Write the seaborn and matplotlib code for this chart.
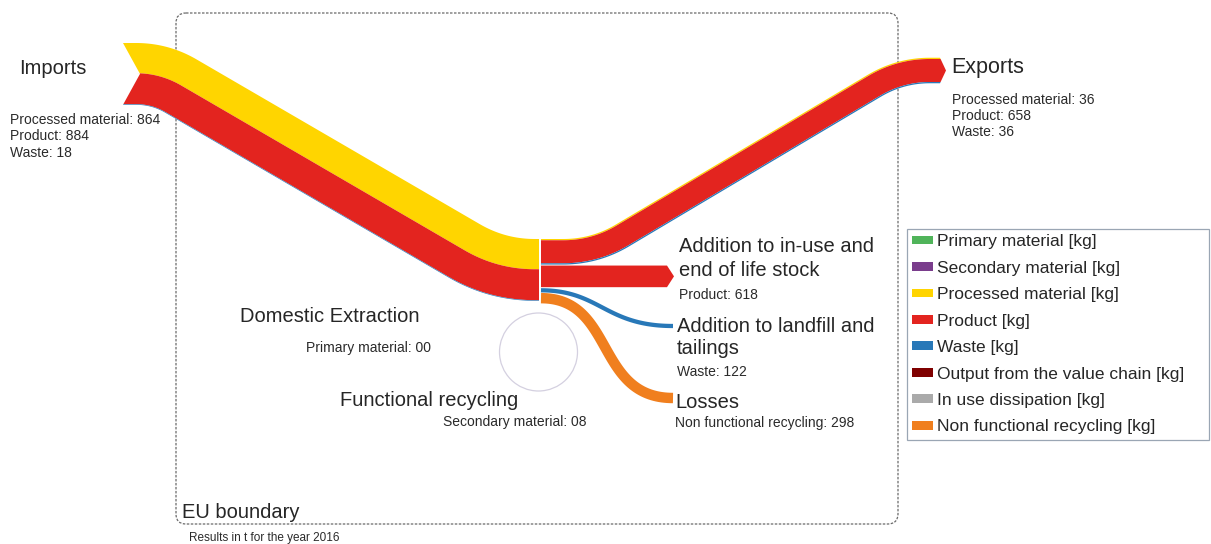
import numpy as np
import matplotlib
matplotlib.use("Agg")
import matplotlib.pyplot as plt
from matplotlib.patches import Patch, Circle, FancyBboxPatch
import seaborn as sns

# flows of the EU material balance, results in t for the year 2016
imports_labels = ["Processed material", "Product", "Waste"]
imports_values = [864, 884, 18]
exports_labels = ["Processed material", "Product", "Waste"]
exports_values = [36, 658, 36]
stock_value = 618        # product -> addition to in-use and end of life stock
landfill_value = 122     # waste -> addition to landfill and tailings
losses_value = 298       # non functional recycling
domestic_value = "00"    # primary material
recycling_value = "08"   # secondary material

legend_labels = ["Primary material [kg]", "Secondary material [kg]",
                 "Processed material [kg]", "Product [kg]", "Waste [kg]",
                 "Output from the value chain [kg]", "In use dissipation [kg]",
                 "Non functional recycling [kg]"]
legend_colors = ["#50b45a", "#7a3d8c", "#ffd400", "#e3241f", "#2878b8",
                 "#7f0000", "#aaaaaa", "#f07f1e"]
flow_colors = {"Processed material": "#ffd500", "Product": "#e3241f",
               "Waste": "#2878b8", "Losses": "#f07f1e"}

PX = 0.035  # band width in pixels per tonne


def rounded_polyline(corners, cuts, n=30):
    corners = np.asarray(corners, float)
    pts = [corners[0]]
    for i in range(1, len(corners) - 1):
        p0, p, p1 = corners[i - 1], corners[i], corners[i + 1]
        d1 = (p - p0) / np.linalg.norm(p - p0)
        d2 = (p1 - p) / np.linalg.norm(p1 - p)
        a, b = p - d1 * cuts[i - 1], p + d2 * cuts[i - 1]
        t = np.linspace(0, 1, n)[:, None]
        pts.extend((1 - t) ** 2 * a + 2 * t * (1 - t) * p + t ** 2 * b)
    pts.append(corners[-1])
    return np.array(pts)


def bezier(p0, p1, p2, p3, n=80):
    t = np.linspace(0, 1, n)[:, None]
    p0, p1, p2, p3 = [np.asarray(p, float) for p in (p0, p1, p2, p3)]
    return (1 - t) ** 3 * p0 + 3 * t * (1 - t) ** 2 * p1 + 3 * t ** 2 * (1 - t) * p2 + t ** 3 * p3


def normals(c):
    seg = np.diff(c, axis=0)
    seg = seg / np.linalg.norm(seg, axis=1)[:, None]
    tan = np.vstack([seg[:1], seg[:-1] + seg[1:], seg[-1:]])
    tan = tan / np.linalg.norm(tan, axis=1)[:, None]
    return np.column_stack([-tan[:, 1], tan[:, 0]])


def draw_band(ax, center, values, colors, start_dx=None, end_dx=None):
    widths = [v * PX for v in values]
    half = sum(widths) / 2
    nrm = normals(center)
    sdx = start_dx or (lambda r: 0.0)
    edx = end_dx or (lambda r: 0.0)
    o = -half
    for w, col in zip(widths, colors):
        o1, o2 = o, o + w
        o = o2
        offs = sorted([o1, o2] + ([0.0] if o1 < 0 < o2 else []))
        start = [center[0] + q * nrm[0] + [sdx(q / half), 0] for q in offs[::-1]]
        end = [center[-1] + q * nrm[-1] + [edx(q / half), 0] for q in offs]
        top = center[1:-1] + o1 * nrm[1:-1]
        bot = (center[1:-1] + o2 * nrm[1:-1])[::-1]
        poly = np.vstack([top, end, bot, start])
        ax.fill(poly[:, 0], poly[:, 1], color=col, lw=0, zorder=3)


def lines(ax, x, y0, texts, step, **kw):
    for i, s in enumerate(texts):
        ax.text(x, y0 + i * step, s, va="center", **kw)


sns.set_theme(style="white")
plt.rcParams["font.family"] = ["Liberation Sans", "DejaVu Sans"]

fig = plt.figure(figsize=(12.11, 5.44), dpi=100)
ax = fig.add_axes([0, 0, 1, 1])
ax.set_xlim(0, 1211)
ax.set_ylim(544, 0)
ax.axis("off")

# EU boundary
ax.add_patch(FancyBboxPatch((176, 13), 722, 511, boxstyle="round,pad=0,rounding_size=10",
                            fill=False, ec="#6a6a6a", lw=0.9, ls=(0, (2, 1.2)), zorder=1))

# imports
imp_w = sum(imports_values) * PX
imp_center = rounded_polyline([(123, 43 + imp_w / 2), (160, 43 + imp_w / 2),
                               (497, 239 + imp_w / 2), (539, 239 + imp_w / 2)], [24, 38])
draw_band(ax, imp_center, imports_values, [flow_colors[k] for k in imports_labels],
          start_dx=lambda r: 17 * (1 - abs(r)))

# exports
exp_w = sum(exports_values) * PX
exp_center = rounded_polyline([(541, 239 + exp_w / 2), (595, 239 + exp_w / 2),
                               (900, 70.5), (940, 70.5)], [32, 30])
draw_band(ax, exp_center, exports_values, [flow_colors[k] for k in exports_labels],
          end_dx=lambda r: 6 * (1 - abs(r)))

# addition to in-use and end of life stock
stock_top = 239 + exp_w + 1
stock_center = np.array([(541, stock_top + stock_value * PX / 2),
                         (667, stock_top + stock_value * PX / 2)])
draw_band(ax, stock_center, [stock_value], [flow_colors["Product"]],
          end_dx=lambda r: 7 * (1 - abs(r)))

# addition to landfill and tailings
lf_top = stock_top + stock_value * PX + 1
lf_y = lf_top + landfill_value * PX / 2
draw_band(ax, bezier((541, lf_y), (600, lf_y), (605, 326), (673, 326)),
          [landfill_value], [flow_colors["Waste"]])

# losses
ls_top = lf_top + landfill_value * PX + 0.5
ls_y = ls_top + losses_value * PX / 2
draw_band(ax, bezier((541, ls_y), (615, ls_y), (595, 398), (673, 398)),
          [losses_value], [flow_colors["Losses"]])

# functional recycling loop
ax.add_patch(Circle((538.5, 352), 39, fill=False, ec="#d4d0e0", lw=0.9, zorder=2))

big = 14.5
small = 10
sub = "#2a2a2a"
ax.text(19, 69, "Imports", fontsize=big, va="center")
lines(ax, 10, 120, [f"{k}: {v}" for k, v in zip(imports_labels, imports_values)], 16.3,
      fontsize=small, color=sub)
ax.text(951, 68, "Exports", fontsize=15.5, va="center")
lines(ax, 952, 100, [f"{k}: {v}" for k, v in zip(exports_labels, exports_values)], 16,
      fontsize=small, color=sub)
lines(ax, 679, 247, ["Addition to in-use and", "end of life stock"], 23, fontsize=big)
ax.text(679, 295, f"Product: {stock_value}", fontsize=small, va="center", color=sub)
lines(ax, 677, 326, ["Addition to landfill and", "tailings"], 23, fontsize=big)
ax.text(677, 372, f"Waste: {landfill_value}", fontsize=small, va="center", color=sub)
ax.text(675, 402, "Losses", fontsize=big, va="center")
ax.text(675, 423, f"Non functional recycling: {losses_value}", fontsize=small,
        va="center", color=sub)
ax.text(240, 317, "Domestic Extraction", fontsize=big, va="center")
ax.text(306, 348, f"Primary material: {domestic_value}", fontsize=small, va="center", color=sub)
ax.text(340, 400, "Functional recycling", fontsize=big, va="center")
ax.text(443, 422, f"Secondary material: {recycling_value}", fontsize=small, va="center", color=sub)
ax.text(182, 513, "EU boundary", fontsize=big, va="center")
ax.text(189, 538, "Results in t for the year 2016", fontsize=8.5, va="center", color=sub)

handles = [Patch(facecolor=c, edgecolor="none", label=l)
           for l, c in zip(legend_labels, legend_colors)]
leg = ax.legend(handles=handles, loc="upper left", mode="expand",
                bbox_to_anchor=(907 / 1211, 1 - 440 / 544, (1209 - 907) / 1211, (440 - 229) / 544),
                fontsize=12.5, frameon=True, fancybox=False, framealpha=1,
                edgecolor="#9aa6b4", borderaxespad=0, borderpad=0.3,
                handlelength=1.2, handleheight=0.4, handletextpad=0.25,
                labelspacing=0.66)
leg.get_frame().set_linewidth(0.9)

fig.savefig("out.png", dpi=100)
